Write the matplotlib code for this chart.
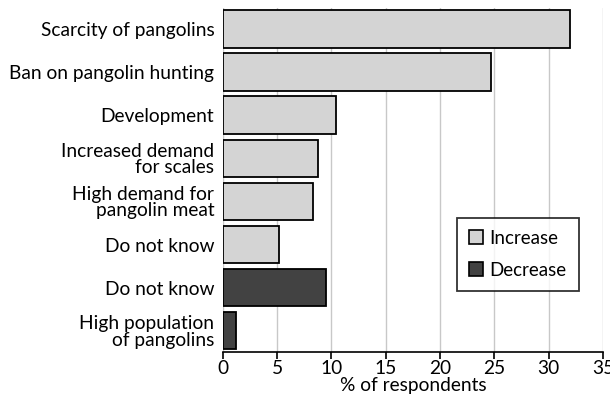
import matplotlib.pyplot as plt
from matplotlib.patches import Patch

# reasons, top to bottom
labels = ['Scarcity of pangolins', 'Ban on pangolin hunting', 'Development',
          'Increased demand\nfor scales', 'High demand for\npangolin meat',
          'Do not know', 'Do not know', 'High population\nof pangolins']
values = [32.0, 24.7, 10.4, 8.8, 8.3, 5.2, 9.5, 1.2]
trend = ['Increase'] * 6 + ['Decrease'] * 2

colors = {'Increase': '#d4d4d4', 'Decrease': '#424242'}

plt.rcParams['font.family'] = ['Lato', 'DejaVu Sans']
plt.rcParams['font.size'] = 13.8

fig = plt.figure(figsize=(6.1, 4.12), dpi=100)
ax = fig.add_axes([0.365, 0.146, 0.6235, 0.835])

ypos = list(range(len(labels)))[::-1]
ax.barh(ypos, values, height=0.87, color=[colors[t] for t in trend],
        edgecolor='black', linewidth=1.3, zorder=3)

ax.set_yticks(ypos)
ax.set_yticklabels(labels, linespacing=0.95)
ax.set_ylim(-0.49, 7.49)
ax.set_xlim(0, 35)
ax.set_xticks(range(0, 36, 5))
ax.set_xlabel('% of respondents', labelpad=0)

ax.grid(axis='x', color='#c8c8c8', linewidth=1, zorder=0)
for s in ['top', 'right', 'left']:
    ax.spines[s].set_visible(False)
ax.spines['bottom'].set_linewidth(1.2)
ax.tick_params(axis='y', length=0, pad=6)
ax.tick_params(axis='x', direction='out', length=5, width=1.2, pad=1)

handles = [Patch(facecolor=colors[k], edgecolor='black', linewidth=1.2, label=k)
           for k in ['Increase', 'Decrease']]
leg = ax.legend(handles=handles, loc='lower left', bbox_to_anchor=(0.616, 0.177),
                borderaxespad=0, frameon=True, fancybox=False, edgecolor='black',
                fontsize=13.5, handlelength=0.75, handleheight=0.75, handletextpad=0.35,
                borderpad=0.65, labelspacing=0.8)
leg.get_frame().set_linewidth(1.3)

fig.savefig('out.png', dpi=100)
